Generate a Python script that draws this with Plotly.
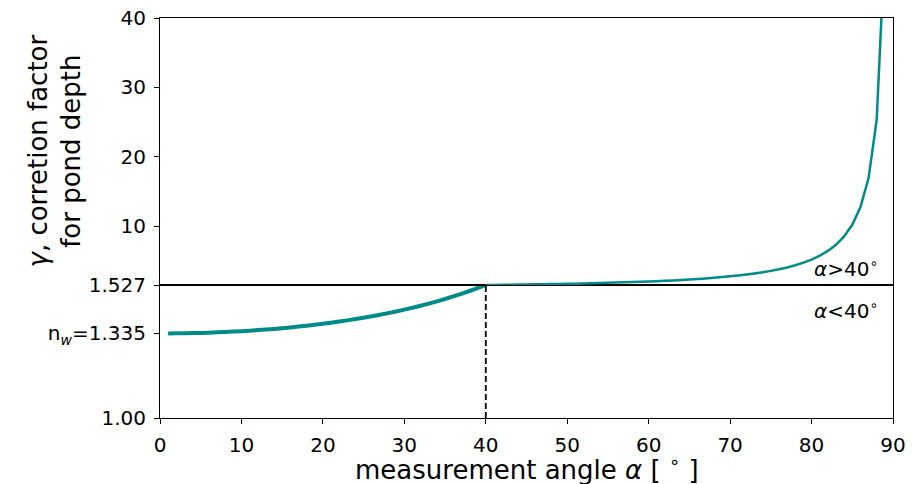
import plotly.graph_objects as go

# measurement angle (degrees)
alpha = list(range(1, 90))
# correction factor gamma
gamma = [
    1.3351, 1.3354, 1.3358, 1.3364, 1.3372, 1.3382, 1.3394, 1.3408, 1.3423, 1.3441,
    1.3460, 1.3482, 1.3505, 1.3531, 1.3559, 1.3589, 1.3622, 1.3656, 1.3693, 1.3733,
    1.3775, 1.3820, 1.3868, 1.3919, 1.3973, 1.4030, 1.4090, 1.4154, 1.4222, 1.4293,
    1.4369, 1.4449, 1.4533, 1.4622, 1.4717, 1.4816, 1.4921, 1.5032, 1.5150, 1.5274,
    1.5406, 1.5545, 1.5692, 1.5848, 1.6014, 1.6190, 1.6376, 1.6574, 1.6785, 1.7009,
    1.7249, 1.7503, 1.7776, 1.8067, 1.8378, 1.8712, 1.9071, 1.9457, 1.9872, 2.0320,
    2.0804, 2.1329, 2.1898, 2.2518, 2.3194, 2.3934, 2.4746, 2.5640, 2.6630, 2.7725,
    2.8948, 3.0318, 3.1861, 3.3609, 3.5605, 3.7902, 4.0569, 4.3699, 4.7418, 5.1905,
    5.7415, 6.4331, 7.3258, 8.5202, 10.197, 12.718, 16.929, 25.363, 50.688,
]
split_angle = 40
n_w = 1.335
split_gamma = 1.527

x_ticks = [0, 10, 20, 30, 40, 50, 60, 70, 80, 90]
low_ticks = [1.00, n_w, split_gamma]
low_ticktext = ["1.00", "n<sub><i>w</i></sub>=1.335", "1.527"]
high_ticks = [10, 20, 30, 40]

color = "#008B8B"
FONT = "DejaVu Sans"

idx = alpha.index(split_angle)
a_low, g_low = alpha[: idx + 1], gamma[: idx + 1]
a_high, g_high = alpha[idx:], gamma[idx:]

fig = go.Figure()
fig.add_trace(go.Scatter(x=a_low, y=g_low, mode="lines", xaxis="x", yaxis="y",
                         line=dict(color=color, width=4, simplify=False), showlegend=False))
fig.add_trace(go.Scatter(x=a_high, y=g_high, mode="lines", xaxis="x2", yaxis="y2",
                         line=dict(color=color, width=2.5, simplify=False), showlegend=False))
fig.add_trace(go.Scatter(x=[split_angle, split_angle], y=[1.0, split_gamma], mode="lines",
                         xaxis="x", yaxis="y",
                         line=dict(color="black", width=1.8, dash="6px,3px"), showlegend=False))

split = 133 / 400
axis_common = dict(showline=True, mirror=True, linecolor="black", linewidth=1,
                   showgrid=False, zeroline=False, ticks="outside", ticklen=5,
                   tickcolor="black", tickwidth=1, automargin=False,
                   tickfont=dict(family=FONT, size=20, color="black"))

fig.update_layout(
    width=922, height=484,
    margin=dict(l=160, r=29, t=18, b=66),
    paper_bgcolor="white", plot_bgcolor="white",
    font=dict(family=FONT, color="black"),
    xaxis=dict(domain=[0, 1], range=[0, 90], anchor="y", tickvals=x_ticks,
               ticklabelstandoff=4, **axis_common),
    xaxis2=dict(domain=[0, 1], range=[0, 90], anchor="y2", matches="x",
                showticklabels=False, showline=True, mirror=True, linecolor="black",
                linewidth=1, showgrid=False, zeroline=False, ticks="", automargin=False),
    yaxis=dict(domain=[0, split], range=[1.0, split_gamma], anchor="x",
               tickvals=low_ticks, ticktext=low_ticktext, ticklabelstandoff=4, **axis_common),
    yaxis2=dict(domain=[split, 1], range=[split_gamma, 40], anchor="x2",
                tickvals=high_ticks, ticklabelstandoff=4, **axis_common),
)

fig.add_annotation(text="<i>α</i>&gt;40<sup>∘</sup>", xref="paper", yref="paper",
                   x=0.982, y=(418 - 268) / 400, xanchor="right", yanchor="middle",
                   showarrow=False, font=dict(family=FONT, size=20, color="black"))
fig.add_annotation(text="<i>α</i>&lt;40<sup>∘</sup>", xref="paper", yref="paper",
                   x=0.982, y=(418 - 310) / 400, xanchor="right", yanchor="middle",
                   showarrow=False, font=dict(family=FONT, size=20, color="black"))
fig.add_annotation(text="measurement angle <i>α</i> [ <sup>∘</sup> ]", xref="paper", yref="paper",
                   x=0.5, y=(418 - 468) / 400, xanchor="center", yanchor="middle",
                   showarrow=False, font=dict(family=FONT, size=26, color="black"))
fig.add_annotation(text="<i>γ</i>, corretion factor<br>for pond depth", xref="paper", yref="paper",
                   x=(54 - 160) / 733, y=(418 - 151.5) / 400, xanchor="center", yanchor="middle",
                   textangle=-90, showarrow=False,
                   font=dict(family=FONT, size=26, color="black"))

fig.write_html(
    "out.html",
    config={"displayModeBar": False},
    post_script="document.body.style.margin='0px';document.body.style.overflow='hidden';",
)
